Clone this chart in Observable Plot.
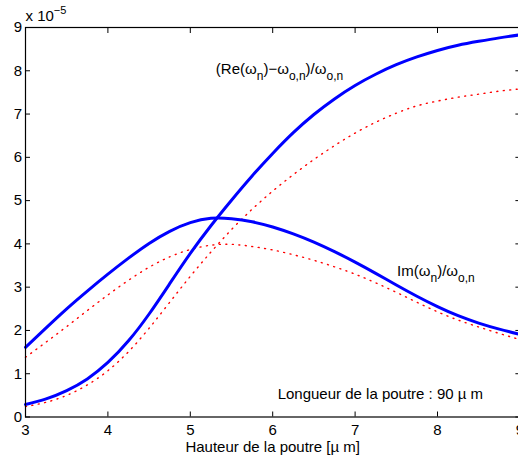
<!DOCTYPE html>
<html><head><meta charset="utf-8">
<script src="https://cdn.jsdelivr.net/npm/d3@7"></script>
<script src="https://cdn.jsdelivr.net/npm/@observablehq/plot@0.6"></script>
<style>
html,body{margin:0;padding:0;background:#fff;overflow:hidden;}
</style>
</head><body><div id="chart"></div>
<script>
// Hauteur de la poutre [µm]
const hauteur = [3,3.25,3.5,3.75,4,4.25,4.5,4.75,5,5.25,5.5,5.75,6,6.25,6.5,6.75,7,7.25,7.5,7.75,8,8.25,8.5,8.75,9];
// values in units of 1e-5
const reBleu  = [0.29,0.42,0.61,0.88,1.26,1.76,2.38,3.08,3.78,4.42,5.01,5.57,6.09,6.57,6.99,7.35,7.66,7.92,8.14,8.32,8.47,8.59,8.68,8.76,8.83];
const reRouge = [0.24,0.34,0.50,0.74,1.07,1.51,2.05,2.65,3.25,3.81,4.33,4.80,5.22,5.60,5.95,6.27,6.56,6.81,7.02,7.19,7.30,7.39,7.46,7.53,7.58];
const imBleu  = [1.61,2.06,2.50,2.91,3.30,3.67,4.01,4.29,4.49,4.59,4.58,4.51,4.39,4.23,4.04,3.82,3.58,3.32,3.05,2.79,2.55,2.34,2.17,2.03,1.91];
const imRouge = [1.38,1.73,2.09,2.46,2.82,3.16,3.46,3.70,3.87,3.97,3.99,3.94,3.86,3.75,3.62,3.47,3.30,3.10,2.88,2.65,2.43,2.24,2.08,1.93,1.79];

const xTicks = [3,4,5,6,7,8,9];
const yTicks = [0,1,2,3,4,5,6,7,8,9];

const xLabel = "Hauteur de la poutre [µ m]";
const noteText = "Longueur de la poutre : 90 µ m";
// rich labels: [text, shift] where 1 = subscript, -1 = superscript
const labelRe  = [["(Re(ω",0],["n",1],[")−ω",0],["o,n",1],[")/ω",0],["o,n",1]];
const labelIm  = [["Im(ω",0],["n",1],[")/ω",0],["o,n",1]];
const labelExp = [["x 10",0],["−5",-1]];

const plain = segs => segs.map(s => s[0]).join("");

const mk = ys => hauteur.map((x, i) => ({x, y: ys[i]}));

const font = "'Liberation Sans', Arial, Helvetica, sans-serif";

const plot = Plot.plot({
  width: 518,
  height: 461,
  marginLeft: 25,
  marginRight: -1.4,
  marginTop: 27,
  marginBottom: 44.5,
  style: {fontFamily: font, fontSize: "15px", color: "black", background: "white"},
  x: {domain: [3, 9]},
  y: {domain: [0, 9]},
  marks: [
    Plot.line(mk(reRouge), {x: "x", y: "y", stroke: "#ff0000", strokeWidth: 1.4, strokeDasharray: "1,5.5", curve: "natural"}),
    Plot.line(mk(imRouge), {x: "x", y: "y", stroke: "#ff0000", strokeWidth: 1.4, strokeDasharray: "1,5.5", curve: "natural"}),
    Plot.line(mk(reBleu), {x: "x", y: "y", stroke: "#0000ff", strokeWidth: 3, curve: "natural"}),
    Plot.line(mk(imBleu), {x: "x", y: "y", stroke: "#0000ff", strokeWidth: 3, curve: "natural"}),
    Plot.frame({stroke: "black", strokeWidth: 1.2}),
    Plot.axisX({anchor: "bottom", ticks: xTicks, tickSize: -5, tickPadding: 12, tickFormat: "d", label: null, fontSize: 15}),
    Plot.axisX({anchor: "top", ticks: xTicks, tickSize: -5, tickFormat: () => "", label: null}),
    Plot.axisY({anchor: "left", ticks: yTicks, tickSize: -5, tickPadding: 8.5, tickFormat: "d", label: null, fontSize: 15}),
    Plot.axisY({anchor: "right", ticks: yTicks, tickSize: -5, tickFormat: () => "", label: null}),
    Plot.text([xLabel], {frameAnchor: "bottom", dy: 34.5, text: d => d, fontSize: 15}),
    Plot.text([noteText], {x: () => 6.06, y: () => 0.53, text: d => d, textAnchor: "start", fontSize: 15}),
    Plot.text([plain(labelRe)], {x: () => 5.31, y: () => 8.04, text: d => d, textAnchor: "start", fontSize: 15}),
    Plot.text([plain(labelIm)], {x: () => 7.51, y: () => 3.37, text: d => d, textAnchor: "start", fontSize: 15}),
    Plot.text([plain(labelExp)], {x: () => 3, y: () => 9, dy: -11.5, text: d => d, textAnchor: "start", fontSize: 15})
  ]
});

// Turn the plain annotation texts into rich text with sub/superscripts
const rich = new Map([[plain(labelRe), labelRe], [plain(labelIm), labelIm], [plain(labelExp), labelExp]]);
d3.select(plot).selectAll("text").each(function() {
  const segs = rich.get(this.textContent);
  if (!segs) return;
  const t = d3.select(this);
  t.text(null);
  let cur = 0;
  for (const [s, shift] of segs) {
    const off = shift === 1 ? 6 : shift === -1 ? -7 : 0;
    const ts = t.append("tspan").text(s).attr("dy", off - cur);
    if (shift !== 0) ts.attr("font-size", shift === 1 ? 12 : 11);
    cur = off;
  }
});

document.getElementById("chart").appendChild(plot);
</script>
</body></html>
